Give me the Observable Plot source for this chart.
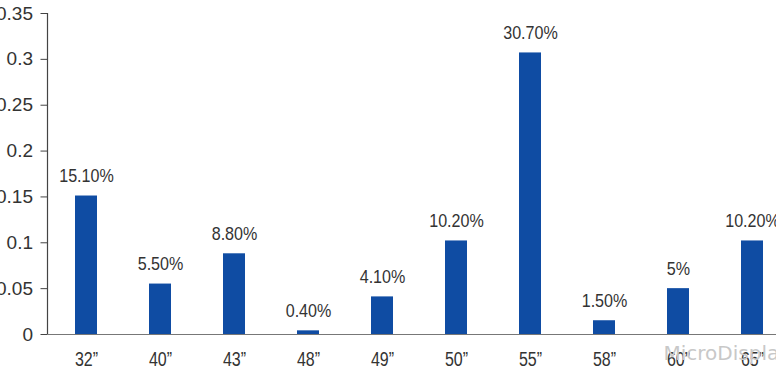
<!DOCTYPE html>
<html>
<head>
<meta charset="utf-8">
<script src="https://cdn.jsdelivr.net/npm/d3@7"></script>
<script src="https://cdn.jsdelivr.net/npm/@observablehq/plot@0.6"></script>
<style>
  html, body { margin: 0; padding: 0; background: #fff; overflow: hidden; }
  #chart svg { overflow: hidden; display: block; }
</style>
</head>
<body>
<div id="chart"></div>
<script>
const categories = ["32”", "40”", "43”", "48”", "49”", "50”", "55”", "58”", "60”", "65”"];
const values = [0.151, 0.055, 0.088, 0.004, 0.041, 0.102, 0.307, 0.015, 0.05, 0.102];
const valueLabels = ["15.10%", "5.50%", "8.80%", "0.40%", "4.10%", "10.20%", "30.70%", "1.50%", "5%", "10.20%"];
const yTicks = [0, 0.05, 0.1, 0.15, 0.2, 0.25, 0.3, 0.35];
const yTickLabels = ["0", "0.05", "0.1", "0.15", "0.2", "0.25", "0.3", "0.35"];
const watermark = ["MicroDisplay"];

const data = categories.map((c, i) => ({cat: c, value: values[i], label: valueLabels[i]}));

const regular = "'Liberation Sans', Arial, sans-serif";

const plot = Plot.plot({
  width: 776,
  height: 370,
  marginLeft: 47,
  marginRight: 0,
  marginTop: 13,
  marginBottom: 36,
  style: {fontFamily: regular, color: "#333", background: "#fff"},
  x: {domain: categories, range: [47, 791], paddingInner: 0.704, paddingOuter: 0.352, label: null},
  y: {domain: [0, 0.35], label: null},
  marks: [
    Plot.barY(data, {x: "cat", y: "value", fill: "#0F4CA3"}),
    Plot.ruleY([0], {stroke: "#777", strokeWidth: 1.2}),
    Plot.text(data, {x: "cat", y: "value", text: "label", lineAnchor: "bottom", dy: -14, fontSize: 18.5, fontFamily: regular, fill: "#333", className: "narrow-data"}),
    Plot.axisY({ticks: yTicks, tickFormat: d => yTickLabels[yTicks.indexOf(d)], tickSize: 6.5, tickPadding: 8, fontSize: 19, fontFamily: regular, stroke: "#444", fill: "#333", label: null}),
    Plot.axisX({tickSize: 0, tickPadding: 17, fontSize: 20, fontFamily: regular, fill: "#333", label: null, className: "narrow-x"}),
    Plot.text(watermark, {frameAnchor: "bottom-left", dx: 616, dy: 19, lineAnchor: "middle", textAnchor: "start", fontSize: 20, fontFamily: "'DejaVu Sans', sans-serif", fill: "#c8c8c8"})
  ]
});

const y = plot.scale("y");
d3.select(plot).append("line")
  .attr("x1", 47.5).attr("x2", 47.5)
  .attr("y1", y.apply(0.35)).attr("y2", y.apply(0))
  .attr("stroke", "#444").attr("stroke-width", 1.2);

document.getElementById("chart").append(plot);

// condense label glyphs to mimic the narrow font of the original
function condense(selector, factor) {
  plot.querySelectorAll(selector).forEach(t => {
    const len = t.getComputedTextLength();
    if (len > 0) {
      t.setAttribute("textLength", (len * factor).toFixed(2));
      t.setAttribute("lengthAdjust", "spacingAndGlyphs");
    }
  });
}
condense(".narrow-data text", 0.87);
condense("[aria-label='x-axis tick label'] text", 0.8);
</script>
</body>
</html>
